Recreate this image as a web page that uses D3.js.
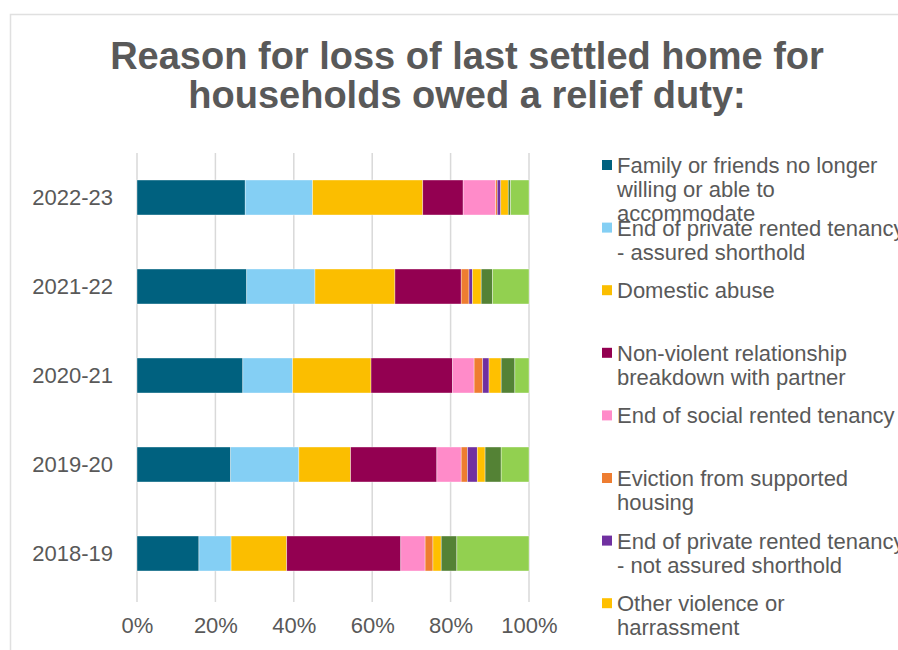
<!DOCTYPE html>
<html>
<head>
<meta charset="utf-8">
<script src="https://cdn.jsdelivr.net/npm/d3@7"></script>
<style>
  html, body { margin: 0; padding: 0; background: #ffffff; }
  svg { display: block; font-family: "Liberation Sans", Arial, sans-serif; }
</style>
</head>
<body>
<svg id="chart" width="898" height="650"></svg>
<script>
// Financial years, top row first
const years = ["2022-23", "2021-22", "2020-21", "2019-20", "2018-19"];

// Share of households (%) by reason, one array per reason, in year order above
const familyFriends      = [27.6, 28.0, 27.0, 23.9, 15.8];
const privateAssured     = [17.2, 17.4, 12.7, 17.4,  8.2];
const domesticAbuse      = [28.1, 20.4, 20.0, 13.2, 14.2];
const nonViolentBreakdown= [10.3, 16.9, 20.8, 22.0, 29.1];
const socialRented       = [ 8.3,  0.0,  5.5,  6.2,  6.2];
const supportedEviction  = [ 0.4,  2.0,  2.2,  1.6,  2.0];
const privateNotAssured  = [ 0.9,  0.9,  1.6,  2.5,  0.0];
const otherViolence      = [ 1.9,  2.2,  3.1,  2.0,  2.1];
const leftInstitution    = [ 0.6,  2.9,  3.5,  4.1,  4.0];
const otherReasons       = [ 4.7,  9.3,  3.6,  7.1, 18.4];

// Legend labels, already split into lines
const seriesLabels = [
  ["Family or friends no longer", "willing or able to", "accommodate"],
  ["End of private rented tenancy", "- assured shorthold"],
  ["Domestic abuse"],
  ["Non-violent relationship", "breakdown with partner"],
  ["End of social rented tenancy"],
  ["Eviction from supported", "housing"],
  ["End of private rented tenancy", "- not assured shorthold"],
  ["Other violence or", "harrassment"],
  ["Left institution with no", "accommodation available"],
  ["Other reasons / not known"]
];

const seriesValues = [familyFriends, privateAssured, domesticAbuse, nonViolentBreakdown,
  socialRented, supportedEviction, privateNotAssured, otherViolence, leftInstitution, otherReasons];

const seriesColors = ["#00617f", "#84cff4", "#fbbe00", "#930051", "#ff8bc9",
  "#ee7d31", "#7030a0", "#ffc000", "#548235", "#92d050"];

const xTicks = [0, 20, 40, 60, 80, 100];

const title = ["Reason for loss of last settled home for", "households owed a relief duty:"];

// Build a row per year for d3.stack
const keys = seriesValues.map((_, i) => "s" + i);
const rows = years.map((y, yi) => {
  const r = { year: y };
  keys.forEach((k, si) => { r[k] = seriesValues[si][yi]; });
  return r;
});
const stacked = d3.stack().keys(keys)(rows);

const svg = d3.select("#chart");
const textColor = "#595959";
const gridColor = "#d9d9d9";

// Chart area frame
svg.append("rect")
  .attr("x", 10.5).attr("y", 14.5)
  .attr("width", 1000).attr("height", 1000)
  .attr("fill", "#ffffff")
  .attr("stroke", "#e0e0e0").attr("stroke-width", 1.5);

// Title
svg.append("g")
  .selectAll("text")
  .data(title)
  .join("text")
  .attr("x", 467)
  .attr("y", (d, i) => 69 + i * 39)
  .attr("text-anchor", "middle")
  .attr("font-size", 38)
  .attr("font-weight", "bold")
  .attr("fill", textColor)
  .text(d => d);

// Scales
const x = d3.scaleLinear().domain([0, 100]).range([137, 529]);
const y = d3.scaleBand().domain(years).range([153, 598])
  .paddingInner(0.607).paddingOuter(0.3035);

// Vertical gridlines
svg.append("g")
  .selectAll("line")
  .data(xTicks)
  .join("line")
  .attr("x1", d => x(d)).attr("x2", d => x(d))
  .attr("y1", y.range()[0]).attr("y2", y.range()[1] + 4)
  .attr("stroke", gridColor).attr("stroke-width", 1.5);

// Stacked bars
svg.append("g")
  .selectAll("g")
  .data(stacked)
  .join("g")
  .attr("fill", (d, i) => seriesColors[i])
  .selectAll("rect")
  .data(d => d)
  .join("rect")
  .attr("x", d => x(d[0]))
  .attr("y", d => y(d.data.year))
  .attr("width", d => Math.max(0, x(d[1]) - x(d[0])))
  .attr("height", y.bandwidth())
  .attr("stroke", "#ffffff").attr("stroke-width", 0.6).attr("stroke-opacity", 0.6);

// X axis labels
const xAxis = d3.axisBottom(x).tickValues(xTicks).tickFormat(d => d + "%").tickSize(0).tickPadding(0);
const gx = svg.append("g").attr("transform", "translate(0,617)").call(xAxis);
gx.select(".domain").remove();
gx.selectAll("text")
  .attr("font-size", 22)
  .attr("font-family", "'Liberation Sans', Arial, sans-serif")
  .attr("fill", textColor)
  .attr("dy", "0.71em");

// Y axis labels
const yAxis = d3.axisLeft(y).tickSize(0).tickPadding(0);
const gy = svg.append("g").attr("transform", "translate(113,0)").call(yAxis);
gy.select(".domain").remove();
gy.selectAll("text")
  .attr("font-size", 22)
  .attr("font-family", "'Liberation Sans', Arial, sans-serif")
  .attr("fill", textColor);

// Legend
const legend = svg.append("g")
  .selectAll("g")
  .data(seriesLabels)
  .join("g")
  .attr("transform", (d, i) => `translate(602,${173 + i * 62.6})`);

legend.append("rect")
  .attr("x", 0).attr("y", -13)
  .attr("width", 10).attr("height", 10)
  .attr("fill", (d, i) => seriesColors[i]);

legend.append("text")
  .attr("font-size", 22)
  .attr("fill", textColor)
  .selectAll("tspan")
  .data(d => d)
  .join("tspan")
  .attr("x", 15)
  .attr("y", (d, i) => i * 24)
  .text(d => d);
</script>
</body>
</html>
